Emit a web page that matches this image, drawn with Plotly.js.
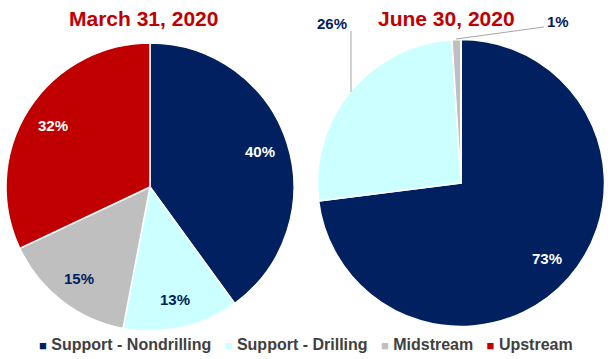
<!DOCTYPE html>
<html>
<head>
<meta charset="utf-8">
<script src="https://cdn.plot.ly/plotly-3.0.1.min.js"></script>
<style>html,body{margin:0;padding:0;background:#fff;}#chart{width:611px;height:359px;}</style>
</head>
<body>
<div id="chart"></div>
<script>
const categories = ["Support - Nondrilling", "Support - Drilling", "Midstream", "Upstream"];
const colors = ["#002060", "#CCFFFF", "#BFBFBF", "#C00000"];
const march = [40, 13, 15, 32];
const june = [73, 26, 1, 0];
const titles = ["March 31, 2020", "June 30, 2020"];

const W = 611, H = 359;
const px = x => x / W;
const py = y => 1 - y / H;
const FONT = "Arial, Liberation Sans, sans-serif";

const pies = [
  {values: march, cx: 150, cy: 187, r: 144, frac: 0.8, inside: [true, true, true, true]},
  {values: june, cx: 461, cy: 183, r: 143.5, frac: 0.8, inside: [true, false, false, false]}
];
const labelColors = ["#ffffff", "#002060", "#002060", "#ffffff"];

const traces = pies.map(p => ({
  type: "pie", labels: categories, values: p.values, sort: false, direction: "clockwise", rotation: 0,
  marker: {colors: colors, line: {color: "#ffffff", width: 1.5}},
  textinfo: "none", hoverinfo: "label+percent",
  domain: {x: [px(p.cx - p.r), px(p.cx + p.r)], y: [py(p.cy + p.r), py(p.cy - p.r)]},
  showlegend: false
}));

const annotations = [];
// inside percentage labels, placed along each slice's mid angle
pies.forEach(p => {
  const total = p.values.reduce((a, b) => a + b, 0);
  let cum = 0;
  p.values.forEach((v, i) => {
    const mid = (cum + v / 2) / total * 2 * Math.PI;
    cum += v;
    if (!p.inside[i] || v === 0) return;
    const x = p.cx + p.frac * p.r * Math.sin(mid);
    const y = p.cy - p.frac * p.r * Math.cos(mid);
    annotations.push({text: `<b>${v}%</b>`, x: px(x), y: py(y), xref: "paper", yref: "paper",
      showarrow: false, xanchor: "center", yanchor: "middle",
      font: {family: FONT, size: 15, color: labelColors[i]}});
  });
});

const titleFont = {family: FONT, size: 21, color: "#C00000"};
const annFont = {family: FONT, size: 15, color: "#002060"};

annotations.push(
  {text: `<b>${titles[0]}</b>`, x: px(143), y: py(18), xref: "paper", yref: "paper", showarrow: false, font: titleFont, xanchor: "center", yanchor: "middle"},
  {text: `<b>${titles[1]}</b>`, x: px(446), y: py(18), xref: "paper", yref: "paper", showarrow: false, font: titleFont, xanchor: "center", yanchor: "middle"},
  {text: `<b>${june[1]}%</b>`, x: px(332), y: py(24), xref: "paper", yref: "paper", showarrow: false, font: annFont, xanchor: "center", yanchor: "middle"},
  {text: `<b>${june[2]}%</b>`, x: px(558), y: py(22), xref: "paper", yref: "paper", showarrow: false, font: annFont, xanchor: "center", yanchor: "middle"}
);

const legendText = categories.map((c, i) =>
  `<span style="color:${colors[i]};font-size:13px">■</span> ${c}`).join("   ");
annotations.push({text: `<b>${legendText}</b>`, x: px(306), y: py(344), xref: "paper", yref: "paper", showarrow: false,
  font: {family: FONT, size: 16, color: "#404040"}, xanchor: "center", yanchor: "middle"});

const shapes = [
  {type: "line", xref: "paper", yref: "paper", x0: px(351), y0: py(31), x1: px(351), y1: py(92), line: {color: "#A6A6A6", width: 1}},
  {type: "line", xref: "paper", yref: "paper", x0: px(544), y0: py(27), x1: px(456), y1: py(39), line: {color: "#A6A6A6", width: 1}}
];

const layout = {
  width: W, height: H, margin: {l: 0, r: 0, t: 0, b: 0},
  paper_bgcolor: "#ffffff", plot_bgcolor: "#ffffff",
  showlegend: false, annotations: annotations, shapes: shapes
};

Plotly.newPlot("chart", traces, layout, {displayModeBar: false, staticPlot: true});
</script>
</body>
</html>
